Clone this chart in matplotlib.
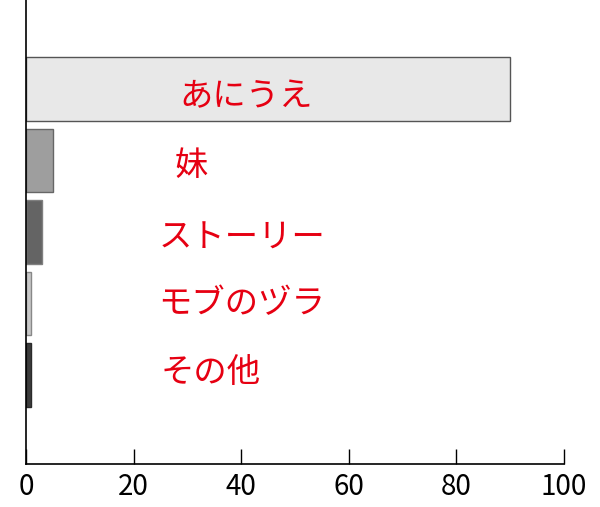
import matplotlib
matplotlib.use("Agg")
import matplotlib.pyplot as plt

categories = ["あにうえ", "妹", "ストーリー", "モブのヅラ", "その他"]
values = [90, 5, 3, 1, 1]
bar_colors = ["#e8e8e8", "#9e9e9e", "#646464", "#c8c8c8", "#3c3c3c"]
edge_colors = ["#555555", "#666666", "#808080", "#888888", "#2a2a2a"]
label_x = [28.6, 27.6, 24.6, 24.6, 25.0]
label_dy = [0.11, 0.07, 0.08, 0.0, -0.03]
xticks = [0, 20, 40, 60, 80, 100]

plt.rcParams['font.family'] = ['Noto Sans CJK JP', 'DejaVu Sans']

fig = plt.figure(figsize=(6.0, 5.07), dpi=100)
ax = fig.add_axes([26/600, 43/507, (564-26)/600, 464/507])

pos = list(range(len(categories)))
ax.barh(pos, values, height=0.895, color=bar_colors, edgecolor=edge_colors, linewidth=1.0, zorder=2)

for p, lab, lx, dy in zip(pos, categories, label_x, label_dy):
    ax.text(lx, p + dy, lab, color="#e60012", fontsize=24, ha='left', va='center', zorder=3)

ax.set_xlim(0, 100)
ax.set_ylim(len(categories) - 1 + 1.245, -1.245)
ax.set_yticks([])
ax.set_xticks(xticks)
ax.set_xticklabels([str(t) for t in xticks], fontsize=20,
                   family=['Liberation Sans Narrow', 'Noto Sans CJK JP', 'DejaVu Sans'])
ax.tick_params(axis='x', direction='in', length=11, width=1.0, pad=6, color='black')
for s in ['top', 'right']:
    ax.spines[s].set_visible(False)
for s in ['left', 'bottom']:
    ax.spines[s].set_linewidth(1.2)
    ax.spines[s].set_color('black')

fig.savefig("out.png", dpi=100)
